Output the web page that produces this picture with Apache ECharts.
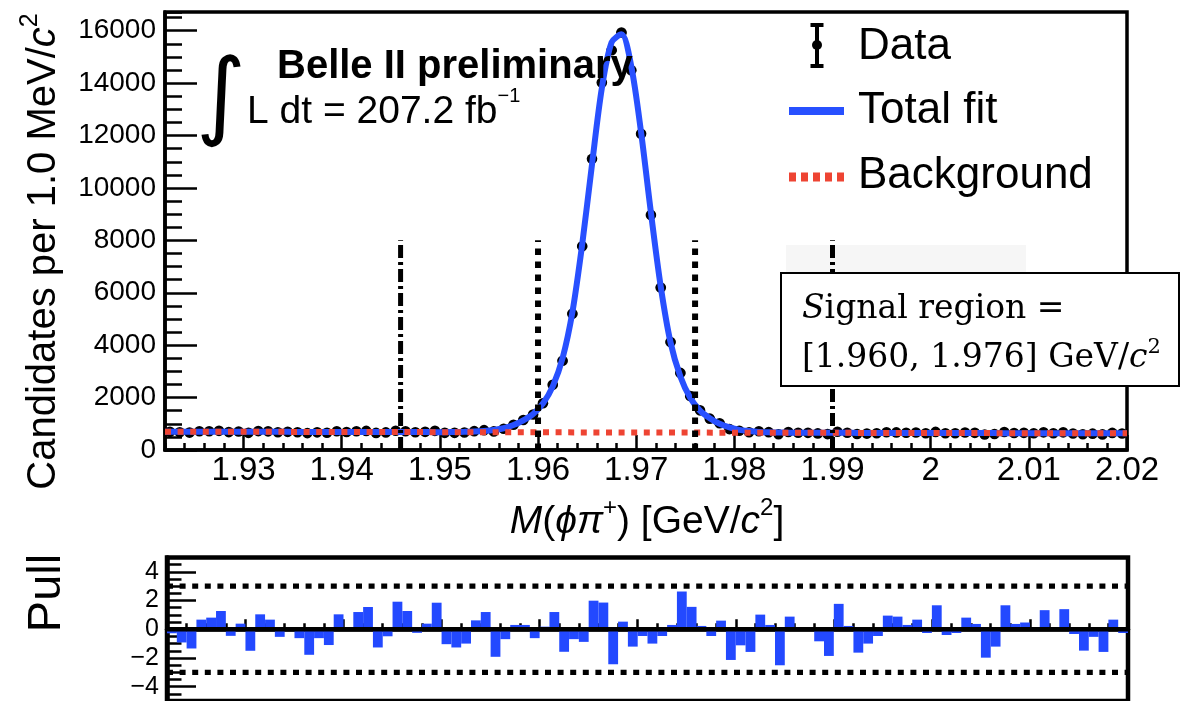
<!DOCTYPE html>
<html><head><meta charset="utf-8">
<script src="https://cdn.jsdelivr.net/npm/echarts@6/dist/echarts.min.js"></script>
<style>html,body{margin:0;padding:0;background:#fff}#c{width:1183px;height:701px}</style>
</head><body><div id="c"></div>
<script>
// ---------------- data ----------------
const massBins = [1.9225,1.9235,1.9245,1.9255,1.9265,1.9275,1.9285,1.9295,1.9305,1.9315,
 1.9325,1.9335,1.9345,1.9355,1.9365,1.9375,1.9385,1.9395,1.9405,1.9415,
 1.9425,1.9435,1.9445,1.9455,1.9465,1.9475,1.9485,1.9495,1.9505,1.9515,
 1.9525,1.9535,1.9545,1.9555,1.9565,1.9575,1.9585,1.9595,1.9605,1.9615,
 1.9625,1.9635,1.9645,1.9655,1.9665,1.9675,1.9685,1.9695,1.9705,1.9715,
 1.9725,1.9735,1.9745,1.9755,1.9765,1.9775,1.9785,1.9795,1.9805,1.9815,
 1.9825,1.9835,1.9845,1.9855,1.9865,1.9875,1.9885,1.9895,1.9905,1.9915,
 1.9925,1.9935,1.9945,1.9955,1.9965,1.9975,1.9985,1.9995,2.0005,2.0015,
 2.0025,2.0035,2.0045,2.0055,2.0065,2.0075,2.0085,2.0095,2.0105,2.0115,
 2.0125,2.0135,2.0145,2.0155,2.0165,2.0175,2.0185,2.0195];
const binWidth = 0.001;
const counts = [693,675,664,716,718,731,684,705,655,721,
 711,679,693,675,644,674,660,716,689,718,
 728,653,672,735,717,676,693,730,654,654,
 666,719,757,709,810,961,1144,1354,1782,2489,
 3405,5204,7771,11110,14022,15254,15930,14495,12069,8971,
 6204,4121,2942,2063,1513,1197,1018,798,737,680,
 718,682,602,685,658,655,634,607,699,660,
 611,626,640,675,672,658,666,641,691,637,
 639,667,654,594,613,685,651,654,642,674,
 640,674,630,600,624,596,653,628];
const fitValues = [700,699,699,698,697,697,696,695,695,694,
 693,693,692,691,691,690,689,689,688,687,
 687,686,685,685,684,683,683,682,681,687,
 692,703,725,762,830,952,1134,1377,1774,2430,
 3498,5254,7849,10902,13803,15558,15863,14641,12121,9066,
 6241,4102,2803,1993,1504,1213,999,861,768,722,
 691,674,667,662,657,656,656,655,654,654,
 653,652,652,651,650,650,649,648,648,647,
 646,646,645,644,644,643,642,642,641,640,
 640,639,638,638,637,636,636,635];
const fitEdgeValues = [700, 635];          // fit at the two ends of the range
const bgMass = [1.922, 2.02];
const bgValues = [700, 635];
const pulls = [-0.28,-0.92,-1.34,0.67,0.81,1.27,-0.46,0.39,-1.5,1.04,
 0.67,-0.53,0.05,-0.62,-1.78,-0.62,-1.1,1.04,0.02,1.2,
 1.55,-1.27,-0.49,1.92,1.27,-0.25,0.39,1.85,-1.04,-1.27,
 -1.0,0.62,1.2,-1.92,-0.69,0.3,0.3,-0.62,0.18,1.2,
 -1.57,-0.69,-0.88,1.99,1.86,-2.44,0.53,-1.21,-0.47,-1.0,
 -0.47,0.3,2.63,1.56,0.23,-0.47,0.6,-2.14,-1.12,-1.58,
 1.02,0.3,-2.51,0.88,0.04,-0.03,-0.84,-1.86,1.77,0.23,
 -1.63,-1.0,-0.47,0.95,0.88,0.3,0.67,-0.26,1.67,-0.4,
 -0.26,0.81,0.37,-1.98,-1.21,1.67,0.37,0.47,0.02,1.33,
 0.02,1.4,-0.33,-1.49,-0.53,-1.58,0.67,-0.26];
const regionLines = [1.946, 1.960, 1.976, 1.990];
const regionLineTop = 8000;
const pullBands = [3, -3];
const xTicks = [1.93,1.94,1.95,1.96,1.97,1.98,1.99,2.00,2.01,2.02];
const yTicks = [0,2000,4000,6000,8000,10000,12000,14000,16000];
const pullTicks = [-4,-2,0,2,4];
const X0 = 1.922, X1 = 2.02, YMAX = 16715, PMIN = -5, PMAX = 5;

// ---------------- chart ----------------
const FONT = 'Liberation Sans';
const BLUE = '#2850ff', RED = '#ee4433', BAR = '#2349ff';
const chart = echarts.init(document.getElementById('c'), null, {renderer:'canvas'});

const fitData = [[X0, fitEdgeValues[0]]].concat(massBins.map((x,i)=>[x, fitValues[i]]), [[X1, fitEdgeValues[1]]]);
const dataPts = massBins.map((x,i)=>[x, counts[i], Math.sqrt(counts[i])]);
const pullData = massBins.map((x,i)=>[x, pulls[i]]);

const gMain = {left:165, top:12, width:962, height:438};
const gPull = {left:167, top:557.5, width:961, height:146};
const tickStyle = {color:'#000', width:2.5};
const noSplit = {show:false};
const xFmt = v => String(+(+v).toFixed(3));
const yFmt = v => String(Math.round(v));
const pFmt = v => v < 0 ? '\u2212' + Math.abs(v) : String(v);

const regionStyles = [
  {type:[13,4,3,4], width:5},
  {type:[6.5,6.5], width:6},
  {type:[6.5,6.5], width:6},
  {type:[13,4,3,4], width:5}
];

const series = [
  { // data points with error bars
    type:'custom', xAxisIndex:0, yAxisIndex:0, z:2, data:dataPts,
    renderItem:(params, api)=>{
      const x=api.value(0), y=api.value(1), e=api.value(2);
      const c=api.coord([x,y]), t=api.coord([x,y+e]), b=api.coord([x,y-e]);
      const l=api.coord([x-binWidth/2,y]), r=api.coord([x+binWidth/2,y]);
      return {type:'group', children:[
        {type:'line', shape:{x1:l[0],y1:l[1],x2:r[0],y2:r[1]}, style:{stroke:'#000',lineWidth:3}},
        {type:'line', shape:{x1:t[0],y1:t[1],x2:b[0],y2:b[1]}, style:{stroke:'#000',lineWidth:3}},
        {type:'circle', shape:{cx:c[0],cy:c[1],r:5.3}, style:{fill:'#000'}}
      ]};
    }
  },
  { type:'line', xAxisIndex:0, yAxisIndex:0, z:3, data:fitData, symbol:'none', smooth:0.3,
    lineStyle:{color:BLUE, width:6}, silent:true },
  { type:'line', xAxisIndex:0, yAxisIndex:0, z:4, data:bgMass.map((x,i)=>[x,bgValues[i]]), symbol:'none',
    lineStyle:{color:RED, width:6, type:[6,6.6]}, silent:true }
];
regionLines.forEach((x,i)=>{
  series.push({type:'line', xAxisIndex:0, yAxisIndex:0, z:5, symbol:'none', silent:true,
    data:[[x,0],[x,regionLineTop]], lineStyle:Object.assign({color:'#000'}, regionStyles[i])});
});
series.push({
  type:'custom', xAxisIndex:1, yAxisIndex:1, z:2, data:pullData,
  renderItem:(params, api)=>{
    const x=api.value(0), p=api.value(1);
    const a=api.coord([x-binWidth/2,0]), b=api.coord([x+binWidth/2,p]);
    return {type:'rect', shape:{x:Math.min(a[0],b[0]), y:Math.min(a[1],b[1]),
      width:Math.abs(b[0]-a[0]), height:Math.abs(b[1]-a[1])}, style:{fill:BAR}};
  }
});
series.push({type:'line', xAxisIndex:1, yAxisIndex:1, z:4, symbol:'none', silent:true,
  data:[[X0,0],[X1,0]], lineStyle:{color:'#000', width:4.3}});
pullBands.forEach(v=>{
  series.push({type:'line', xAxisIndex:1, yAxisIndex:1, z:4, symbol:'none', silent:true,
    data:[[X0,v],[X1,v]], lineStyle:{color:'#000', width:5.3, type:[6,6.6]}});
});

const T = (o)=>Object.assign({type:'text', z:50}, o);
const graphic = [
  {type:'rect', z:0, shape:{x:786,y:245,width:240,height:28}, style:{fill:'#f6f6f6'}},
  // axis titles
  T({x:40.5, y:251.5, rotation:Math.PI/2, style:{
    text:'{n|Candidates per 1.0 MeV/}{i|c}{s|2}', align:'center', verticalAlign:'middle',
    rich:{n:{fontFamily:FONT,fontSize:40,lineHeight:46,verticalAlign:'bottom',fill:'#000'},
          i:{fontFamily:FONT,fontSize:40,fontStyle:'italic',lineHeight:46,verticalAlign:'bottom',fill:'#000'},
          s:{fontFamily:FONT,fontSize:25,lineHeight:22,verticalAlign:'top',fill:'#000'}}}}),
  T({x:647, y:519, style:{
    text:'{i|M}{n|(}{i|\u03d5\u03c0}{s|+}{n|) [GeV/}{i|c}{s|2}{n|]}', align:'center', verticalAlign:'middle',
    rich:{n:{fontFamily:FONT,fontSize:39,lineHeight:45,verticalAlign:'bottom',fill:'#000'},
          i:{fontFamily:FONT,fontSize:39,fontStyle:'italic',lineHeight:45,verticalAlign:'bottom',fill:'#000'},
          s:{fontFamily:FONT,fontSize:24,lineHeight:22,verticalAlign:'top',fill:'#000'}}}}),
  T({x:47, y:593, rotation:Math.PI/2, style:{text:'Pull', fontFamily:FONT, fontSize:47, fill:'#000',
    align:'center', verticalAlign:'middle'}}),
  // labels in the plot
  T({x:277, y:67, style:{text:'Belle II preliminary', fontFamily:FONT, fontWeight:'bold', fontSize:40,
    fill:'#000', align:'left', verticalAlign:'middle'}}),
  T({x:221, y:102, style:{text:'\u222b', fontFamily:'DejaVu Sans', fontSize:96, fill:'#000',
    align:'center', verticalAlign:'middle'}}),
  T({x:247, y:109, style:{text:'{t|L dt = 207.2 fb}{s|\u22121}', align:'left', verticalAlign:'middle',
    rich:{t:{fontFamily:FONT,fontSize:39,lineHeight:46,verticalAlign:'bottom',fill:'#000'},
          s:{fontFamily:FONT,fontSize:20,lineHeight:18,verticalAlign:'top',fill:'#000'}}}}),
  // legend
  {type:'line', z:50, shape:{x1:817,y1:25,x2:817,y2:66}, style:{stroke:'#000',lineWidth:4}},
  {type:'line', z:50, shape:{x1:810.5,y1:25,x2:823.5,y2:25}, style:{stroke:'#000',lineWidth:4}},
  {type:'line', z:50, shape:{x1:810.5,y1:66,x2:823.5,y2:66}, style:{stroke:'#000',lineWidth:4}},
  {type:'circle', z:50, shape:{cx:817,cy:45,r:5}, style:{fill:'#000'}},
  {type:'line', z:50, shape:{x1:789,y1:111,x2:844,y2:111}, style:{stroke:BLUE,lineWidth:8}},
  {type:'line', z:50, shape:{x1:789,y1:177,x2:845,y2:177}, style:{stroke:RED,lineWidth:9,lineDash:[7,5]}},
  T({x:858, y:47, style:{text:'Data', fontFamily:FONT, fontSize:44, fill:'#000', verticalAlign:'middle'}}),
  T({x:858, y:111, style:{text:'Total fit', fontFamily:FONT, fontSize:44, fill:'#000', verticalAlign:'middle'}}),
  T({x:858, y:176, style:{text:'Background', fontFamily:FONT, fontSize:44, fill:'#000', verticalAlign:'middle'}}),
  // signal region box
  {type:'rect', z:100, shape:{x:781,y:273,width:398,height:113}, style:{fill:'#fff',stroke:'#000',lineWidth:2}},
  T({x:802, y:309, z:101, style:{text:'{i|S}{n|ignal region =}', align:'left', verticalAlign:'middle',
    rich:{n:{fontFamily:'DejaVu Serif',fontSize:33,fill:'#000'},
          i:{fontFamily:'DejaVu Serif',fontSize:33,fontStyle:'italic',fill:'#000'}}}}),
  T({x:802, y:356, z:101, style:{text:'{n|[1.960, 1.976] GeV/}{i|c}{s|2}', align:'left', verticalAlign:'middle',
    rich:{n:{fontFamily:'DejaVu Serif',fontSize:33,lineHeight:38,verticalAlign:'bottom',fill:'#000'},
          i:{fontFamily:'DejaVu Serif',fontSize:33,fontStyle:'italic',lineHeight:38,verticalAlign:'bottom',fill:'#000'},
          s:{fontFamily:'DejaVu Serif',fontSize:21,lineHeight:20,verticalAlign:'top',fill:'#000'}}}})
];

const option = {
  animation:false,
  backgroundColor:'#fff',
  grid:[
    Object.assign({show:true, borderColor:'#000', borderWidth:3.5, backgroundColor:'transparent'}, gMain),
    Object.assign({show:true, borderColor:'#000', borderWidth:4.5, backgroundColor:'transparent'}, gPull),
    Object.assign({show:false}, gMain),
    Object.assign({show:false}, gPull)
  ],
  xAxis:[
    {gridIndex:0, type:'value', min:X0, max:X1, interval:0.002, splitLine:noSplit,
      axisLine:{lineStyle:{color:'#000', width:3.5}},
      axisTick:{inside:true, length:7, lineStyle:tickStyle},
      axisLabel:{customValues:xTicks, formatter:xFmt, fontFamily:FONT, fontSize:33, color:'#000', margin:4}},
    {gridIndex:1, type:'value', min:X0, max:X1, interval:0.002, splitLine:noSplit,
      axisLine:{lineStyle:{color:'#000', width:4.5}},
      axisTick:{inside:true, length:6, lineStyle:tickStyle}, axisLabel:{show:false}},
    {gridIndex:2, type:'value', min:X0, max:X1, splitLine:noSplit, axisLine:{show:false},
      axisTick:{inside:true, length:15, lineStyle:tickStyle, customValues:xTicks}, axisLabel:{show:false}},
    {gridIndex:3, type:'value', min:X0, max:X1, splitLine:noSplit, axisLine:{show:false},
      axisTick:{inside:true, length:10, lineStyle:tickStyle, customValues:xTicks}, axisLabel:{show:false}}
  ],
  yAxis:[
    {gridIndex:0, type:'value', min:0, max:YMAX, interval:500, splitLine:noSplit,
      axisLine:{lineStyle:{color:'#000', width:3.5}},
      axisTick:{inside:true, length:17, lineStyle:tickStyle},
      axisLabel:{customValues:yTicks, formatter:yFmt, fontFamily:FONT, fontSize:28, color:'#000', margin:9}},
    {gridIndex:1, type:'value', min:PMIN, max:PMAX, interval:0.5, splitLine:noSplit,
      axisLine:{lineStyle:{color:'#000', width:4.5}},
      axisTick:{inside:true, length:14.5, lineStyle:tickStyle},
      axisLabel:{customValues:pullTicks, formatter:pFmt, fontFamily:FONT, fontSize:25, color:'#000', margin:8}},
    {gridIndex:2, type:'value', min:0, max:YMAX, splitLine:noSplit, axisLine:{show:false},
      axisTick:{inside:true, length:32, lineStyle:tickStyle, customValues:yTicks}, axisLabel:{show:false}},
    {gridIndex:3, type:'value', min:PMIN, max:PMAX, splitLine:noSplit, axisLine:{show:false},
      axisTick:{inside:true, length:29, lineStyle:tickStyle, customValues:pullTicks}, axisLabel:{show:false}}
  ],
  series:series,
  graphic:{elements:graphic}
};
chart.setOption(option);
</script>
</body></html>
